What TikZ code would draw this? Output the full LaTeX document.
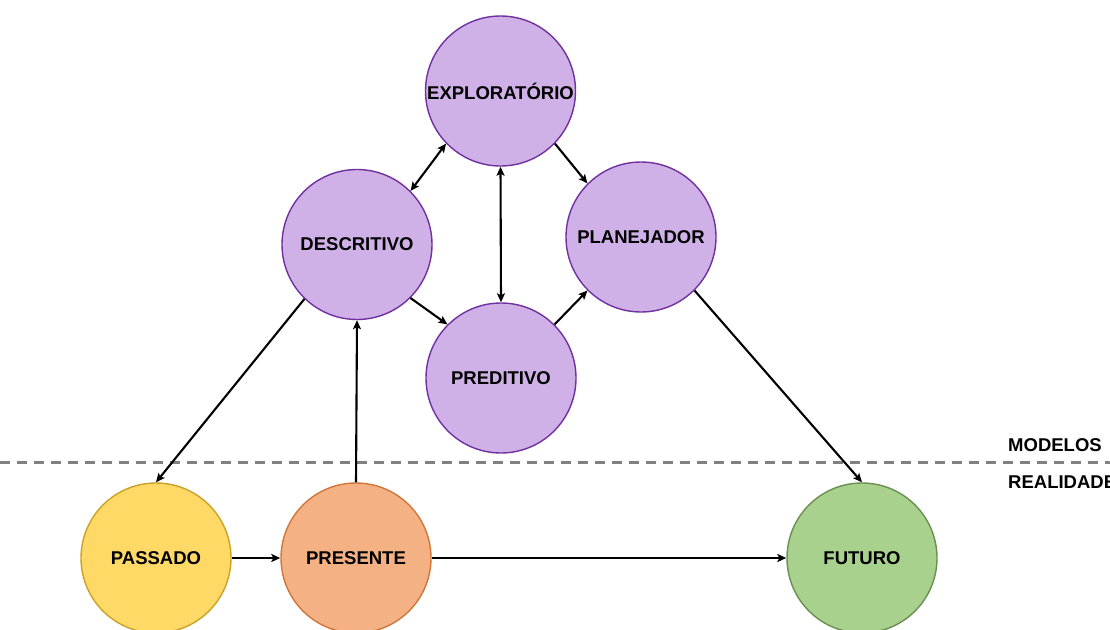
\documentclass[tikz,border=0pt]{standalone}
\usepackage{fontspec}
\setmainfont{Liberation Sans}
\usetikzlibrary{arrows.meta}

\definecolor{purplefill}{HTML}{CFB1E8}
\definecolor{purpleline}{HTML}{7030A0}
\definecolor{yellowfill}{HTML}{FFD966}
\definecolor{yellowline}{HTML}{C9A227}
\definecolor{orangefill}{HTML}{F4B183}
\definecolor{orangeline}{HTML}{D0763A}
\definecolor{greenfill}{HTML}{A9D18E}
\definecolor{greenline}{HTML}{6A8F50}
\definecolor{dashgray}{HTML}{808080}

\tikzset{
  stage/.style={circle, minimum size=150pt, inner sep=0pt, line width=1.4pt,
    font=\fontsize{18.5}{21}\selectfont\bfseries},
  model/.style={stage, fill=purplefill, draw=purpleline},
  past/.style={stage, fill=yellowfill, draw=yellowline},
  now/.style={stage, fill=orangefill, draw=orangeline},
  later/.style={stage, fill=greenfill, draw=greenline},
  tip/.tip={Stealth[length=9pt,width=8pt,inset=2pt]},
  link/.style={line width=2.1pt, -tip},
  bilink/.style={line width=2.1pt, tip-tip},
  divider/.style={dashgray, line width=2.2pt, dash pattern=on 10pt off 7pt},
  zone/.style={anchor=base west, inner sep=0pt, font=\fontsize{18.5}{21}\selectfont\bfseries}
}

\begin{document}
\begin{tikzpicture}[x=1pt, y=-1pt]
  \useasboundingbox (0,0) rectangle (1110,629);

  % boundary between the model layer and reality
  \coordinate (lineL) at (0,462.5);
  \coordinate (lineR) at (1110,462.5);
  \draw[divider] (lineL) -- (lineR);
  \node[zone] (modelos) at (1008,451) {MODELOS};
  \node[zone] (realidade) at (1008,488) {REALIDADE};

  % analytical models
  \node[model] (exp)  at (500.5,91)  {EXPLORATÓRIO};
  \node[model] (desc) at (357,244.5) {DESCRITIVO};
  \node[model] (plan) at (641,237)   {PLANEJADOR};
  \node[model] (pred) at (501,378)   {PREDITIVO};

  % timeline
  \node[past]  (pass) at (156,558) {PASSADO};
  \node[now]   (pres) at (356,558) {PRESENTE};
  \node[later] (fut)  at (862,558) {FUTURO};

  % relations between models
  \draw[bilink] (exp.224) -- (desc.45);
  \draw[bilink] (exp.south) -- (pred.north);
  \draw[link] (exp.316) -- (plan.135);
  \draw[link] (desc.315) -- (pred.135);
  \draw[link] (pred.45) -- (plan.225);

  % relations to the timeline
  \draw[link] (desc.226) -- (pass.north);
  \draw[link] (pres.north) -- (desc.south);
  \draw[link] (plan.315) -- (fut.north);
  \draw[link] (pass.east) -- (pres.west);
  \draw[link] (pres.east) -- (fut.west);
\end{tikzpicture}
\end{document}
